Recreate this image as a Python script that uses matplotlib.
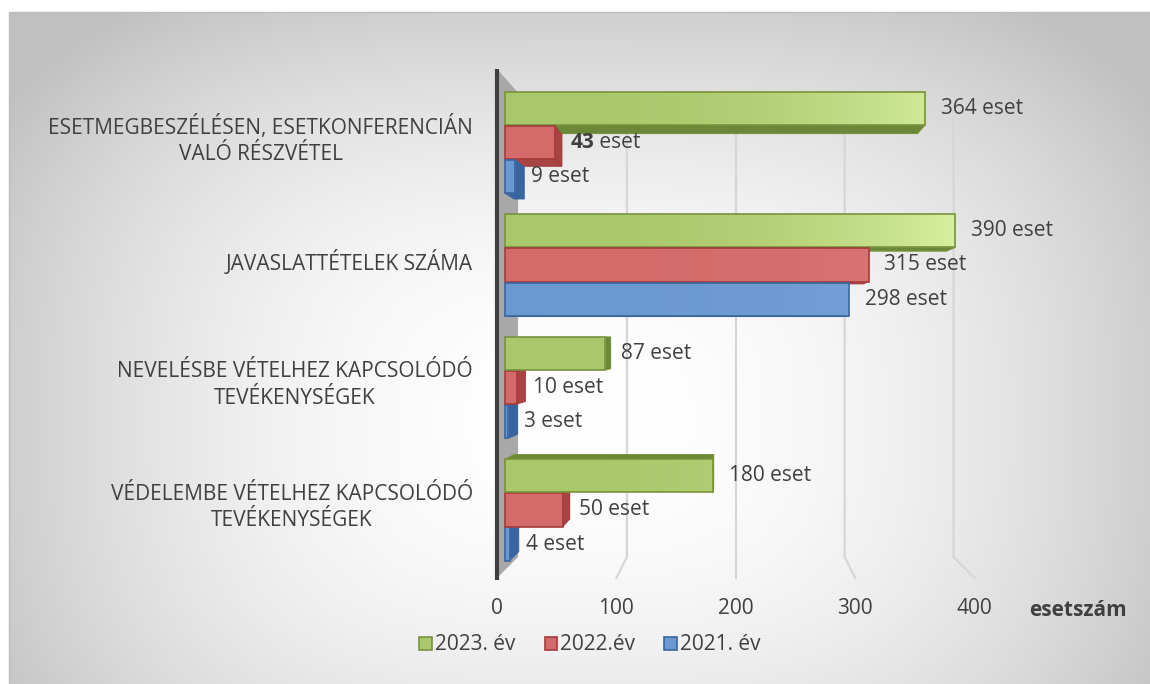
import numpy as np
import matplotlib
matplotlib.use("Agg")
import matplotlib.pyplot as plt
from matplotlib.patches import Polygon, Patch, Rectangle
import matplotlib.transforms as mtransforms
from matplotlib.colors import to_rgb

# ---------------- data ----------------
categories = [
    "ESETMEGBESZÉLÉSEN, ESETKONFERENCIÁN\nVALÓ RÉSZVÉTEL",
    "JAVASLATTÉTELEK SZÁMA",
    "NEVELÉSBE VÉTELHEZ KAPCSOLÓDÓ\nTEVÉKENYSÉGEK",
    "VÉDELEMBE VÉTELHEZ KAPCSOLÓDÓ\nTEVÉKENYSÉGEK",
]
series_names = ["2023. év", "2022.év", "2021. év"]
values_2023 = [364, 390, 87, 180]
values_2022 = [43, 315, 10, 50]
values_2021 = [9, 298, 3, 4]
x_ticks = [0, 100, 200, 300, 400]
value_suffix = " eset"
axis_title = "esetszám"
bold_label = (0, 1)  # (category, series) whose number is bold

series_values = [values_2023, values_2022, values_2021]

# ---------------- style ----------------
plt.rcParams["font.family"] = ["Open Sans", "DejaVu Sans"]
FS = 15
TXT = "#404040"
front_cols = ["#a9c76b", "#d36b6b", "#6a98d0"]
light_cols = ["#d9f2a2", "#dc7a7a", "#7aa6da"]
edge_cols = ["#77933c", "#a53a3a", "#3a659e"]
side_cols = ["#6b8838", "#a94444", "#3a64a0"]

W, H = 1150, 684
fig = plt.figure(figsize=(W / 100, H / 100), dpi=100)

# background with soft rectangular-radial gradient
bg = fig.add_axes([0, 0, 1, 1], zorder=-1)
bg.set_xlim(0, W)
bg.set_ylim(H, 0)
bg.axis("off")
xx, yy = np.meshgrid(np.arange(9, W) + 0.5, np.arange(12, H) + 0.5)
t = (np.abs((xx - 580) / 580.0) ** 3 + np.abs((yy - 420) / 420.0) ** 3) ** (1 / 3)
t = np.clip(t, 0, 1.12)
gray = np.clip(255 - 50 * t ** 2, 0, 255) / 255.0
rgb = np.dstack([gray, gray, gray])
bg.imshow(rgb, extent=(9, W, H, 12), aspect="auto", interpolation="bilinear")
bg.plot([9, 9, W], [H, 12, 12], color="#bdbdbd", lw=1.0)

# main axes (bar front plane)
px_per_unit = 1.154
x_min, x_max = -10, 430
left_px = 505 + x_min * px_per_unit
width_px = (x_max - x_min) * px_per_unit
top_px, bot_px = 78, 570
ax = fig.add_axes([left_px / W, 1 - bot_px / H, width_px / W, (bot_px - top_px) / H])
y_top, y_bot = -0.5265, 3.49
ax.axis("off")

VP = (200.0, 1.6)        # vanishing point (data coords)
K_BACK = 0.9435          # back wall
K_FRONT = 1.0346         # floor front edge
K_BAR = 0.96             # bar depth


def persp(x, y, k):
    return VP[0] + (x - VP[0]) * k, VP[1] + (y - VP[1]) * k


# gridlines on back wall + floor
for v in x_ticks[1:]:
    p1 = persp(v, y_top, K_BACK)
    p2 = persp(v, y_bot, K_BACK)
    p3 = persp(v, y_bot, K_FRONT)
    ax.plot([p1[0], p2[0], p3[0]], [p1[1], p2[1], p3[1]], color="#d6d6d6",
            lw=1.6, zorder=1, clip_on=False, solid_joinstyle="miter")

# side wall
wall = [persp(0, y_top, K_FRONT), persp(0, y_top, K_BACK),
        persp(0, y_bot, K_BACK), persp(0, y_bot, K_FRONT)]
ax.add_patch(Polygon(wall, closed=True, facecolor="#a8a8a8", edgecolor="none",
                     zorder=2, clip_on=False))
wf0 = persp(0, y_top, K_FRONT)
wf1 = persp(0, y_bot, K_FRONT)
ax.plot([wf0[0], wf1[0]], [wf0[1], wf1[1] + 0.02], color="#3f3f3f", lw=3.0,
        zorder=2.5, clip_on=False, solid_capstyle="butt")

# bars
bar_h = 0.27
offs = [-0.278, 0.0, 0.278]
bars = []
for i in range(len(categories)):
    for j in range(len(series_names)):
        bars.append((i, j, i + offs[j], series_values[j][i]))
bars.sort(key=lambda b: -abs(b[2] - VP[1]))

for rank, (i, j, yc, v) in enumerate(bars):
    z = 3 + rank * 0.01
    ya, yb = yc - bar_h / 2, yc + bar_h / 2
    faces = []
    if v < VP[0]:
        faces.append([(v, ya), (v, yb), persp(v, yb, K_BAR), persp(v, ya, K_BAR)])
    if ya > VP[1]:
        faces.append([(0, ya), (v, ya), persp(v, ya, K_BAR), persp(0, ya, K_BAR)])
    if yb < VP[1]:
        faces.append([(0, yb), (v, yb), persp(v, yb, K_BAR), persp(0, yb, K_BAR)])
    for f in faces:
        ax.add_patch(Polygon(f, closed=True, facecolor=side_cols[j],
                             edgecolor=edge_cols[j], lw=0.8, zorder=z,
                             clip_on=False))
    cont = ax.barh([yc], [v], height=bar_h, left=0, color=front_cols[j],
                   edgecolor="none", linewidth=0, zorder=z + 0.004)
    # horizontal lighting gradient on the front face
    n = 64
    xs = np.linspace(0, v, n)
    base = np.array(to_rgb(front_cols[j]))
    light = np.array(to_rgb(light_cols[j]))
    s = np.clip(xs / 400.0, 0, 1) ** 2.5
    grad = base[None, :] + (light - base)[None, :] * s[:, None]
    im = ax.imshow(grad[None, :, :], extent=(0, v, yb, ya), aspect="auto",
                   interpolation="bilinear", zorder=z + 0.005)
    im.set_clip_path(cont.patches[0])
    ax.add_patch(Rectangle((0, ya), v, bar_h, facecolor="none",
                           edgecolor=edge_cols[j], lw=1.2, zorder=z + 0.006))

ax.set_xlim(x_min, x_max)
ax.set_ylim(y_bot, y_top)
ax.set_aspect("auto")

# value labels
for i in range(len(categories)):
    for j in range(len(series_names)):
        v = series_values[j][i]
        yc = i + offs[j]
        if (i, j) == bold_label:
            t1 = ax.annotate(str(v), xy=(v, yc), xytext=(11.5, 0),
                             textcoords="offset points", va="center", ha="left",
                             fontsize=FS, color=TXT, fontweight="bold", zorder=10)
            ax.annotate(value_suffix, xy=(1, 0), xycoords=t1, va="bottom",
                        ha="left", fontsize=FS, color=TXT, zorder=10)
        else:
            ax.annotate(f"{v}{value_suffix}", xy=(v, yc), xytext=(11.5, 0),
                        textcoords="offset points", va="center", ha="left",
                        fontsize=FS, color=TXT, zorder=10)

# category labels
tr_cat = mtransforms.blended_transform_factory(fig.transFigure, ax.transData)
for i, c in enumerate(categories):
    fig.text(473 / W, i - 0.02, c, transform=tr_cat, ha="right", va="center",
             multialignment="center", fontsize=FS, color=TXT, linespacing=1.35)

# tick labels on floor front
tr_tick = mtransforms.blended_transform_factory(ax.transData, fig.transFigure)
for v in x_ticks:
    xf = persp(v, y_bot, K_FRONT)[0]
    fig.text(xf, 1 - 608 / H, str(v), transform=tr_tick, ha="center",
             va="center", fontsize=FS, color=TXT)

fig.text(1078 / W, 1 - 611 / H, axis_title, ha="center", va="center",
         fontsize=FS, fontweight="bold", color=TXT)

# legend
handles = [Patch(facecolor=front_cols[j], edgecolor=edge_cols[j], linewidth=1.2)
           for j in range(len(series_names))]
leg = fig.legend(handles, series_names, loc="center",
                 bbox_to_anchor=(590 / W, 1 - 645 / H), ncol=3, frameon=False,
                 fontsize=FS, handlelength=0.6, handleheight=0.6,
                 handletextpad=0.15, columnspacing=1.4, labelcolor=TXT)

fig.savefig("out.png", dpi=100)
